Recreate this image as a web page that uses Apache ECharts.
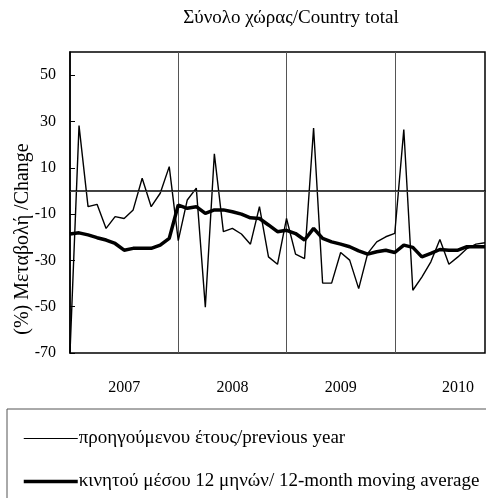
<!DOCTYPE html>
<html>
<head>
<meta charset="utf-8">
<script src="https://cdn.jsdelivr.net/npm/echarts@6/dist/echarts.min.js"></script>
<style>
  html, body { margin: 0; padding: 0; background: #fff; }
  #main { width: 486px; height: 498px; }
</style>
</head>
<body>
<div id="main"></div>
<script>
// months Jan 2007 .. Nov 2010
var months = [
  "2007-01","2007-02","2007-03","2007-04","2007-05","2007-06","2007-07","2007-08","2007-09","2007-10","2007-11","2007-12",
  "2008-01","2008-02","2008-03","2008-04","2008-05","2008-06","2008-07","2008-08","2008-09","2008-10","2008-11","2008-12",
  "2009-01","2009-02","2009-03","2009-04","2009-05","2009-06","2009-07","2009-08","2009-09","2009-10","2009-11","2009-12",
  "2010-01","2010-02","2010-03","2010-04","2010-05","2010-06","2010-07","2010-08","2010-09","2010-10","2010-11"
];
// where the year label sits, and where each new year starts
var yearLabelAt = [6, 18, 30, 43];
var yearStartAt = [12, 24, 36];

var previousYear = [
  -70, 28.2, -6.8, -5.8, -16.2, -11.1, -11.9, -8.2, 5.5, -6.8, -1, 10.5,
  -21.5, -3.9, 1.2, -50.2, 16, -17.6, -16.2, -18.6, -23, -6.8, -28.5, -31.7,
  -11.9, -27.3, -29.2, 27.2, -39.8, -39.8, -26.6, -29.9, -42.2, -27, -22, -19.8,
  -18.3, 26.5, -42.9, -37.2, -30.6, -21, -31.7, -28.5, -24.9, -23, -22.4
];
var movingAvg = [
  -18.6, -18.1, -19, -20.2, -21.2, -22.7, -25.6, -24.8, -24.8, -24.8, -23.4, -20.5,
  -6.1, -7.5, -6.8, -9.7, -8.2, -8.2, -9, -10, -11.6, -11.9, -14.7, -17.6,
  -17, -18.4, -21.2, -16.2, -20.5, -22, -23, -24.1, -25.9, -27.3, -26.3, -25.6,
  -26.6, -23.4, -24.4, -28.5, -27, -25.3, -25.6, -25.6, -24.1, -24.1, -24.1
];

var serif = "'Liberation Serif', 'Times New Roman', serif";
var chart = echarts.init(document.getElementById("main"));

chart.setOption({
  animation: false,
  textStyle: { fontFamily: serif, color: "#000" },
  title: {
    text: "Σύνολο χώρας/Country total",
    left: 286,
    top: 4,
    textAlign: "center",
    textStyle: { fontFamily: serif, fontSize: 19, fontWeight: "normal", color: "#000" }
  },
  grid: {
    left: 70,
    right: 1,
    top: 52,
    bottom: 145,
    outerBoundsMode: "none",
    show: true,
    borderColor: "#000",
    borderWidth: 1.5
  },
  xAxis: {
    type: "category",
    data: months,
    boundaryGap: false,
    axisLine: { lineStyle: { color: "#000", width: 1.5 } },
    axisTick: { show: false },
    axisLabel: {
      interval: function (i) { return yearLabelAt.indexOf(i) >= 0; },
      formatter: function (v) { return v.slice(0, 4); },
      margin: 27,
      fontFamily: serif,
      fontSize: 16,
      color: "#000"
    },
    splitLine: {
      show: true,
      interval: function (i) { return yearStartAt.indexOf(i) >= 0; },
      lineStyle: { color: "#555", width: 1 }
    }
  },
  yAxis: {
    type: "value",
    min: -70,
    max: 60,
    interval: 20,
    axisLine: { show: true, lineStyle: { color: "#000", width: 1.5 } },
    axisTick: { show: true, inside: true, length: 5, lineStyle: { color: "#000" } },
    axisLabel: {
      showMaxLabel: false,
      margin: 14,
      fontFamily: serif,
      fontSize: 16,
      color: "#000"
    },
    splitLine: { show: false }
  },
  graphic: [
    {
      type: "text",
      x: 23,
      y: 239,
      rotation: Math.PI / 2,
      style: {
        text: "(%) Μεταβολή /Change",
        font: "20px " + serif,
        fill: "#000",
        align: "center",
        verticalAlign: "middle"
      }
    },
    {
      type: "rect",
      shape: { x: 7, y: 409, width: 500, height: 100 },
      style: { fill: "none", stroke: "#555", lineWidth: 1 }
    }
  ],
  legend: {
    orient: "vertical",
    left: 22,
    top: 429,
    padding: 0,
    itemWidth: 54,
    itemHeight: 16,
    itemGap: 24,
    itemStyle: { opacity: 0 },
    textStyle: { fontFamily: serif, fontSize: 19, color: "#000", padding: [0, 0, 0, -4] },
    data: [
      { name: "προηγούμενου έτους/previous year", lineStyle: { width: 1.2, color: "#000" } },
      { name: "κινητού μέσου 12 μηνών/ 12-month moving average", lineStyle: { width: 3.5, color: "#000" } }
    ]
  },
  series: [
    {
      name: "κινητού μέσου 12 μηνών/ 12-month moving average",
      type: "line",
      data: movingAvg,
      symbol: "none",
      lineStyle: { color: "#000", width: 3.5 },
      itemStyle: { color: "#000" }
    },
    {
      name: "προηγούμενου έτους/previous year",
      type: "line",
      data: previousYear,
      symbol: "none",
      lineStyle: { color: "#000", width: 1.4 },
      itemStyle: { color: "#000" },
      markLine: {
        silent: true,
        symbol: "none",
        label: { show: false },
        lineStyle: { color: "#444", width: 1, type: "solid" },
        data: [{ yAxis: 0 }]
      }
    }
  ]
});
</script>
</body>
</html>
